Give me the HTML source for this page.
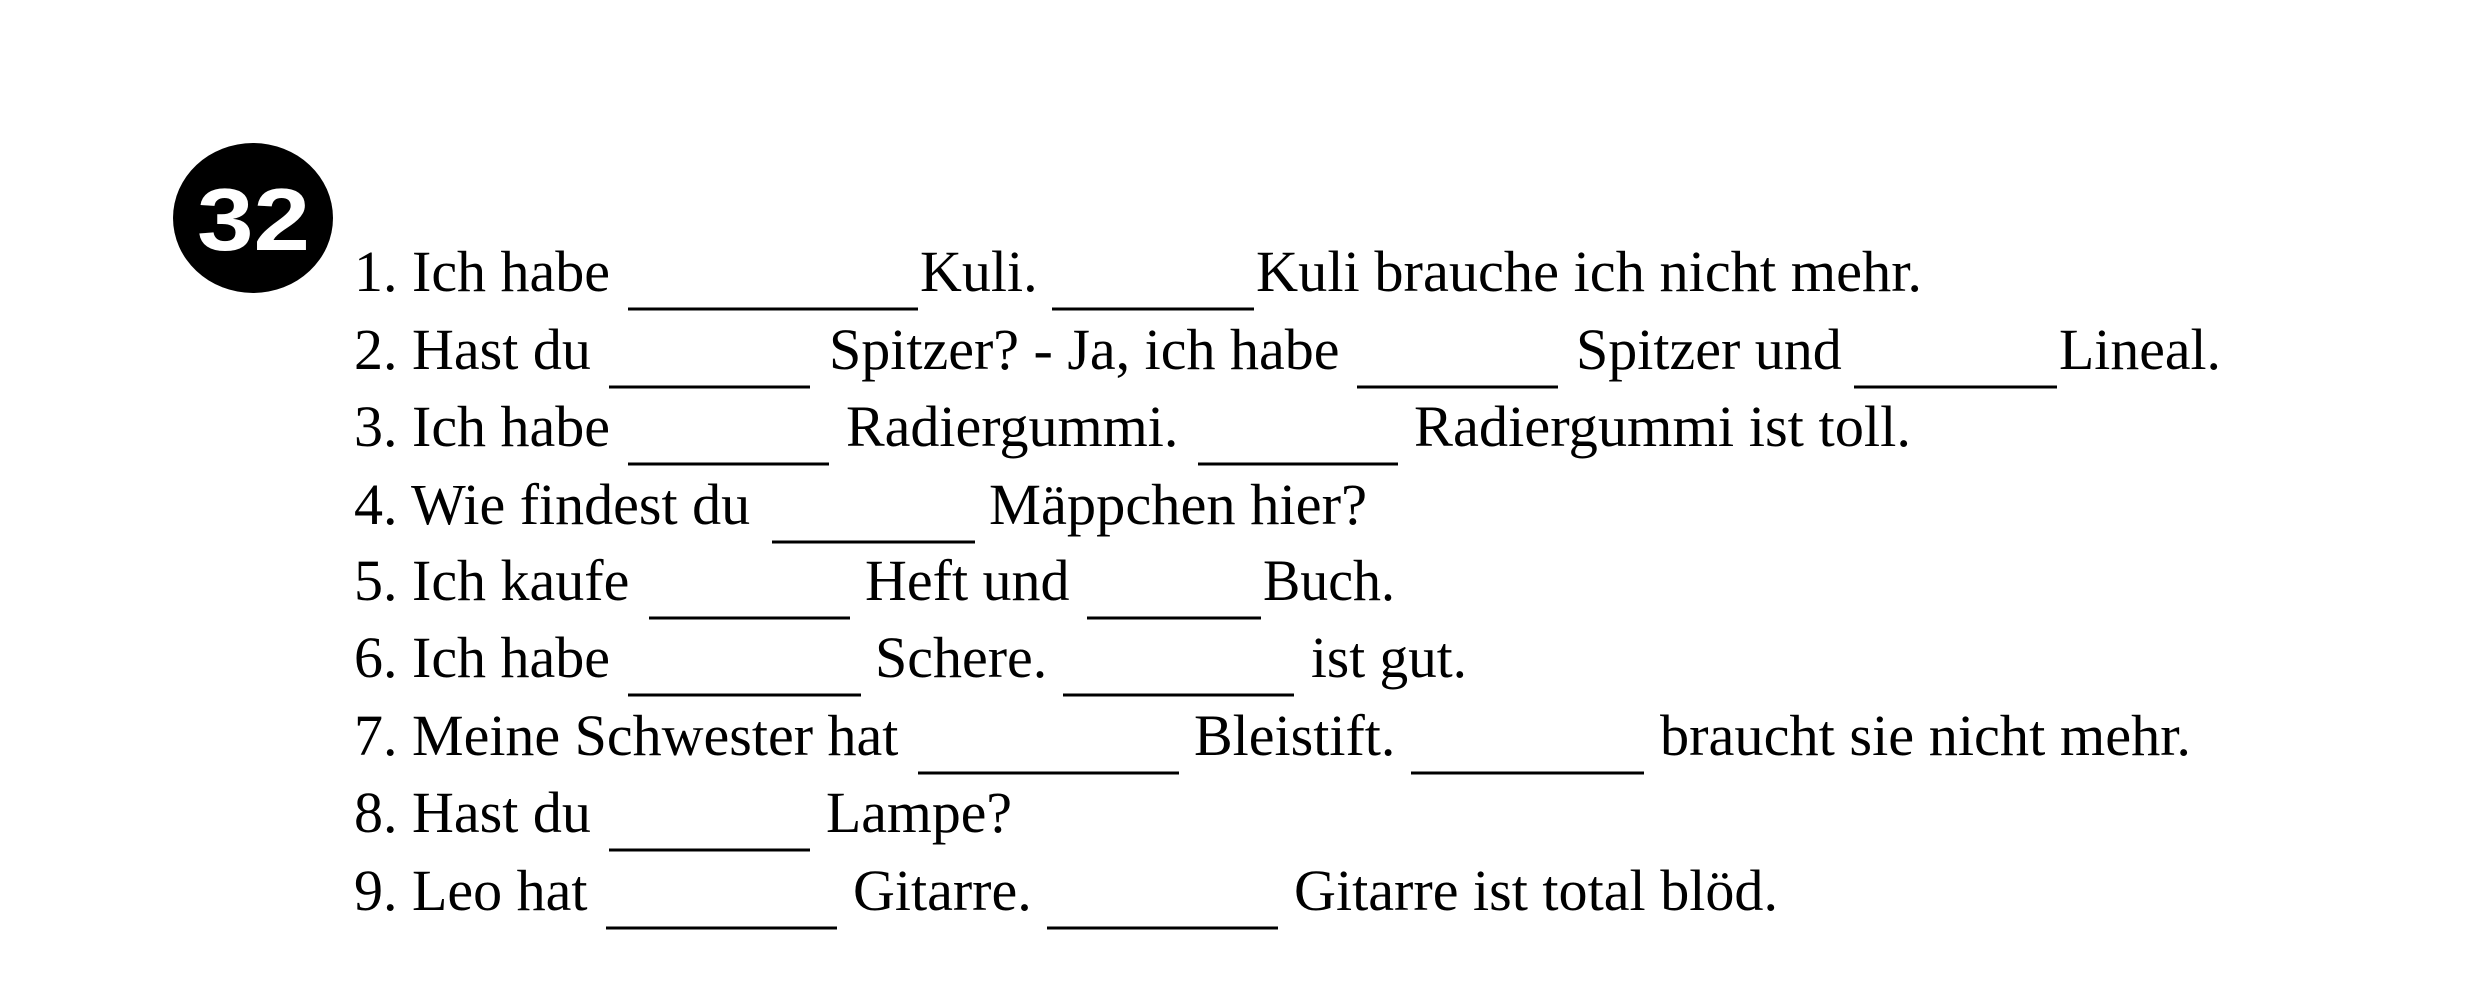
<!DOCTYPE html>
<html><head><meta charset="utf-8"><style>html,body{margin:0;padding:0;background:#fff}svg{display:block}</style></head>
<body>
<svg width="2480" height="983" xmlns="http://www.w3.org/2000/svg">
<rect width="2480" height="983" fill="#fff"/>
<ellipse cx="253" cy="218" rx="80" ry="75" fill="#000"/>
<text x="197" y="250" font-family="Liberation Sans, sans-serif" font-weight="bold" font-size="88" fill="#fff" textLength="113" lengthAdjust="spacingAndGlyphs">32</text>
<g transform="translate(0,-3)">
<g font-family="Liberation Serif, serif" font-size="58" fill="#000">
<text x="354" y="294">1. Ich habe</text>
<text x="920" y="294">Kuli.</text>
<text x="1256" y="294" textLength="666" lengthAdjust="spacingAndGlyphs">Kuli brauche ich nicht mehr.</text>
<text x="354" y="372">2. Hast du</text>
<text x="829" y="372">Spitzer? - Ja, ich habe</text>
<text x="1576" y="372">Spitzer und</text>
<text x="2059" y="372" textLength="162" lengthAdjust="spacingAndGlyphs">Lineal.</text>
<text x="354" y="449">3. Ich habe</text>
<text x="846" y="449">Radiergummi.</text>
<text x="1414" y="449" textLength="497" lengthAdjust="spacingAndGlyphs">Radiergummi ist toll.</text>
<text x="354" y="527">4. Wie findest du</text>
<text x="989" y="527" textLength="378" lengthAdjust="spacingAndGlyphs">Mäppchen hier?</text>
<text x="354" y="603">5. Ich kaufe</text>
<text x="865" y="603">Heft und</text>
<text x="1263" y="603" textLength="132" lengthAdjust="spacingAndGlyphs">Buch.</text>
<text x="354" y="680">6. Ich habe</text>
<text x="875" y="680">Schere.</text>
<text x="1311" y="680" textLength="156" lengthAdjust="spacingAndGlyphs">ist gut.</text>
<text x="354" y="758">7. Meine Schwester hat</text>
<text x="1194" y="758">Bleistift.</text>
<text x="1660" y="758" textLength="531" lengthAdjust="spacingAndGlyphs">braucht sie nicht mehr.</text>
<text x="354" y="835">8. Hast du</text>
<text x="826" y="835" textLength="186" lengthAdjust="spacingAndGlyphs">Lampe?</text>
<text x="354" y="913">9. Leo hat</text>
<text x="853" y="913">Gitarre.</text>
<text x="1294" y="913" textLength="484" lengthAdjust="spacingAndGlyphs">Gitarre ist total blöd.</text>
</g>
<g stroke="#000" stroke-width="3">
<line x1="628" y1="312" x2="918" y2="312"/><line x1="1052" y1="312" x2="1254" y2="312"/>
<line x1="609" y1="390" x2="810" y2="390"/><line x1="1357" y1="390" x2="1558" y2="390"/><line x1="1854" y1="390" x2="2057" y2="390"/>
<line x1="628" y1="467" x2="829" y2="467"/><line x1="1198" y1="467" x2="1398" y2="467"/>
<line x1="772" y1="545" x2="975" y2="545"/>
<line x1="649" y1="621" x2="850" y2="621"/><line x1="1087" y1="621" x2="1261" y2="621"/>
<line x1="628" y1="698" x2="861" y2="698"/><line x1="1063" y1="698" x2="1294" y2="698"/>
<line x1="918" y1="776" x2="1179" y2="776"/><line x1="1411" y1="776" x2="1644" y2="776"/>
<line x1="609" y1="853" x2="810" y2="853"/>
<line x1="606" y1="931" x2="837" y2="931"/><line x1="1047" y1="931" x2="1278" y2="931"/>
</g>
</g>
</svg>
</body></html>
